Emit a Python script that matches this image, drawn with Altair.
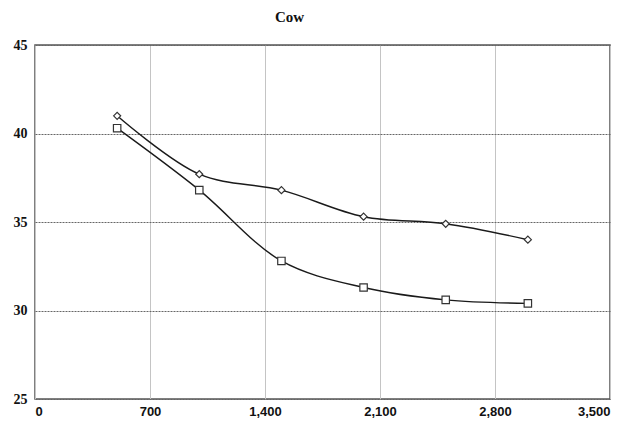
import altair as alt
import pandas as pd

x_vals = [500, 1000, 1500, 2000, 2500, 3000]
series_a = [41.0, 37.7, 36.8, 35.3, 34.9, 34.0]
series_b = [40.3, 36.8, 32.8, 31.3, 30.6, 30.4]
x_ticks = [0, 700, 1400, 2100, 2800, 3500]
y_ticks = [25, 30, 35, 40, 45]

df = pd.DataFrame({
    "x": x_vals * 2,
    "y": series_a + series_b,
    "s": ["A"] * len(x_vals) + ["B"] * len(x_vals),
})

xenc = alt.X("x:Q", scale=alt.Scale(domain=[0, 3500], nice=False),
             axis=alt.Axis(values=x_ticks, format=",.0f", title=None, ticks=False,
                           labelPadding=6, domain=False,
                           labelFont="Liberation Sans", labelFontWeight="bold",
                           labelFontSize=13, labelColor="#111",
                           gridColor="#c4c4c4", gridWidth=1))
yenc = alt.Y("y:Q", scale=alt.Scale(domain=[25, 45], nice=False),
             axis=alt.Axis(values=y_ticks, title=None, ticks=False,
                           labelPadding=8, domain=False,
                           labelFont="Liberation Serif", labelFontWeight="bold",
                           labelFontSize=14, labelColor="#111",
                           gridColor="#666", gridDash=[2, 1], gridWidth=1))

line = alt.Chart(df).mark_line(interpolate="catmull-rom", color="#1a1a1a", strokeWidth=1.4).encode(
    x=xenc, y=yenc, detail="s:N")

pts = alt.Chart(df).mark_point(filled=True, fill="white", stroke="#333", strokeWidth=1.2, opacity=1).encode(
    x="x:Q", y="y:Q",
    shape=alt.Shape("s:N", scale=alt.Scale(domain=["A", "B"], range=["diamond", "square"]), legend=None),
    size=alt.Size("s:N", scale=alt.Scale(domain=["A", "B"], range=[50, 55]), legend=None),
)

chart = (line + pts).properties(
    width=575, height=354,
    padding={"top": 2, "left": 5, "right": 5, "bottom": 5},
    title=alt.TitleParams("Cow", font="Liberation Serif", fontSize=15, fontWeight="bold",
                          color="#111", anchor="middle", dx=-33, offset=13),
).configure_view(stroke="#555", strokeWidth=1.5)

chart.save("out.html", embed_options={"renderer": "svg", "actions": False})
